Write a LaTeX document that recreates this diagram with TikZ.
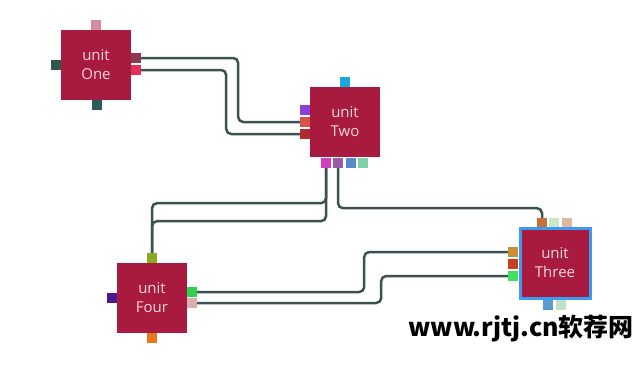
\documentclass[tikz,border=0pt]{standalone}
\usepackage{fontspec}
\setmainfont{Open Sans}
\newfontfamily\cjk{Noto Sans CJK SC}
\definecolor{unitred}{HTML}{A81A3E}
\definecolor{unittext}{HTML}{F3D6DD}
\definecolor{wire}{HTML}{3C5250}
\definecolor{selblue}{HTML}{3A9BF0}
\definecolor{pA}{HTML}{D98AA0}
\definecolor{pB}{HTML}{2F5550}
\definecolor{pC}{HTML}{2D5A5A}
\definecolor{pD}{HTML}{8B3A4F}
\definecolor{pE}{HTML}{E0305A}
\definecolor{pF}{HTML}{1AA7E0}
\definecolor{pG}{HTML}{8A40D8}
\definecolor{pH}{HTML}{D8504A}
\definecolor{pI}{HTML}{B02A30}
\definecolor{pJ}{HTML}{D040C0}
\definecolor{pK}{HTML}{9A5AA8}
\definecolor{pL}{HTML}{5A8AC8}
\definecolor{pM}{HTML}{80D0A8}
\definecolor{pN}{HTML}{8AAA20}
\definecolor{pO}{HTML}{4A1A90}
\definecolor{pP}{HTML}{E87820}
\definecolor{pQ}{HTML}{30D050}
\definecolor{pR}{HTML}{D8B0B0}
\definecolor{pS}{HTML}{C8703A}
\definecolor{pT}{HTML}{C8E8C8}
\definecolor{pU}{HTML}{E0B8A0}
\definecolor{pV}{HTML}{C89030}
\definecolor{pW}{HTML}{C84020}
\definecolor{pX}{HTML}{40E060}
\definecolor{pY}{HTML}{5A9AD0}
\definecolor{pZ}{HTML}{C0E0C8}
\begin{document}
\begin{tikzpicture}[x=1pt,y=-1pt,
  unitbox/.style={fill=unitred, minimum size=70pt, inner sep=0pt, text=unittext,
    font=\fontsize{15}{19}\selectfont, align=center},
  port/.style={minimum size=10pt, inner sep=0pt, fill=#1},
  wireline/.style={draw=wire, line width=2.5pt, rounded corners=5pt}]
\useasboundingbox (0,0) rectangle (644,375);
% ports of One
\node[port=pA] (oneT) at (96,25) {};
\node[port=pB] (oneL) at (56,65) {};
\node[port=pC] (oneB) at (97,105) {};
\node[port=pD] (oneR1) at (136,58) {};
\node[port=pE] (oneR2) at (136,70) {};
% ports of Two
\node[port=pF] (twoT) at (345,82) {};
\node[port=pG] (twoL1) at (305,110) {};
\node[port=pH] (twoL2) at (305,122) {};
\node[port=pI] (twoL3) at (305,134) {};
\node[port=pJ] (twoB1) at (326,163) {};
\node[port=pK] (twoB2) at (338,163) {};
\node[port=pL] (twoB3) at (351,163) {};
\node[port=pM] (twoB4) at (363,163) {};
% ports of Four
\node[port=pN] (fourT) at (152,258) {};
\node[port=pO] (fourL) at (112,298) {};
\node[port=pP] (fourB) at (152,338) {};
\node[port=pQ] (fourR1) at (192,292) {};
\node[port=pR] (fourR2) at (192,303) {};
% ports of Three
\node[port=pS] (threeT1) at (542,223) {};
\node[port=pT] (threeT2) at (554,223) {};
\node[port=pU] (threeT3) at (567,223) {};
\node[port=pV] (threeL1) at (513,252) {};
\node[port=pW] (threeL2) at (513,264) {};
\node[port=pX] (threeL3) at (513,276) {};
\node[port=pY] (threeB1) at (548,305) {};
\node[port=pZ] (threeB2) at (561,305) {};
% units
\node[unitbox] (one) at (96,65) {unit\\One};
\node[unitbox] (two) at (345,122) {unit\\Two};
\node[unitbox] (four) at (152,298) {unit\\Four};
\node[unitbox, draw=selblue, line width=3pt] (three) at (555,263) {unit\\Three};
% connectors
\draw[wireline] (oneR1.east) -- ++(97,0) |- (twoL2.west);
\draw[wireline] (oneR2.east) -- ++(85,0) |- (twoL3.west);
\draw[wireline] (twoB1.south) -- ++(0,35) -| (fourT.north);
\draw[wireline] (twoB1.south) -- ++(0,53) -| (fourT.north);
\draw[wireline] (twoB2.south) -- ++(0,40) -| (threeT1.north);
\draw[wireline] (fourR1.east) -- ++(167,0) |- (threeL1.west);
\draw[wireline] (fourR2.east) -- ++(184,0) |- (threeL3.west);
% watermark
\node[anchor=base west, inner sep=0pt, font=\cjk\bfseries\fontsize{25}{28}\selectfont] (wm) at (408,336) {www.rjtj.cn软荐网};
\end{tikzpicture}
\end{document}
